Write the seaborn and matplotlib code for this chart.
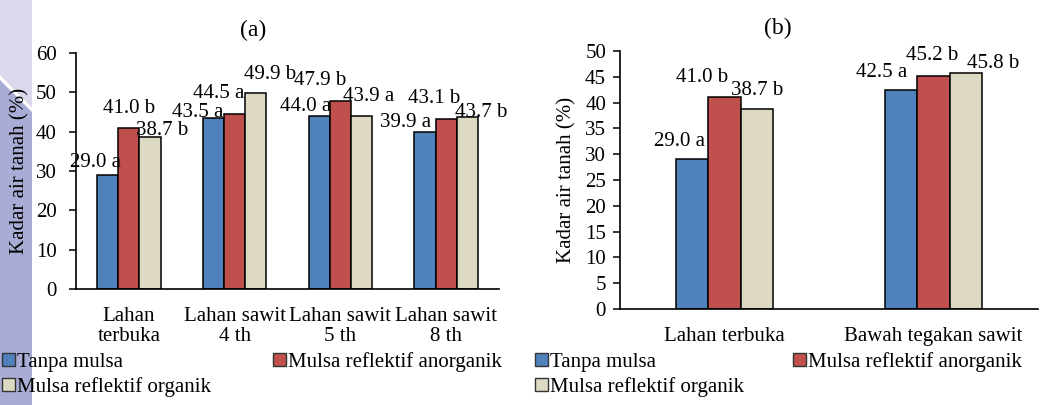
import pandas as pd
import numpy as np
import matplotlib.pyplot as plt
import seaborn as sns
from matplotlib.patches import Patch, Polygon

# data
treatments = ['Tanpa mulsa', 'Mulsa reflektif anorganik', 'Mulsa reflektif organik']
colors = ['#4F81BD', '#C0504D', '#DDD9C3']

sites_a = ['Lahan\nterbuka', 'Lahan sawit\n4 th', 'Lahan sawit\n5 th', 'Lahan sawit\n8 th']
tanpa_a = [29.0, 43.5, 44.0, 39.9]
anorg_a = [41.0, 44.5, 47.9, 43.1]
organ_a = [38.7, 49.9, 43.9, 43.7]
letters_a = [['a', 'a', 'a', 'a'], ['b', 'a', 'b', 'b'], ['b', 'b', 'a', 'b']]

sites_b = ['Lahan terbuka', 'Bawah tegakan sawit']
tanpa_b = [29.0, 42.5]
anorg_b = [41.0, 45.2]
organ_b = [38.7, 45.8]
letters_b = [['a', 'a'], ['b', 'b'], ['b', 'b']]

# label nudges in pixels (dx, dy) per treatment / site, copied from the excel layout
nudge_a = [[(-12, 8), (-16, 1), (-14, 5), (-19, 5)],
           [(0, 15), (-16, 16), (-20, 16), (-12, 16)],
           [(12, 2), (14, 14), (7, 15), (14, 0)]]
nudge_b = [[(-13, 13), (-19, 13)],
           [(-22, 15), (-1, 16)],
           [(0, 14), (27, 5)]]

FS = 15


def long_df(sites, series):
    rows = []
    for t, vals in zip(treatments, series):
        for s, v in zip(sites, vals):
            rows.append({'site': s, 'perlakuan': t, 'kadar': v})
    return pd.DataFrame(rows)


def draw_panel(ax, sites, series, letters, nudges, width, ymax, ystep, title, title_x, ypad):
    df = long_df(sites, series)
    sns.barplot(data=df, x='site', y='kadar', hue='perlakuan', hue_order=treatments,
                palette=colors, width=width, gap=0, edgecolor='black', linewidth=1.1,
                saturation=1, errorbar=None, legend=False, ax=ax)
    ax.set_ylim(0, ymax)
    ax.set_yticks(np.arange(0, ymax + 1, ystep))
    ax.set_xlim(-0.5, len(sites) - 0.5)
    for side in ['top', 'right']:
        ax.spines[side].set_visible(False)
    ax.spines['left'].set_linewidth(1.2)
    ax.spines['bottom'].set_linewidth(1.2)
    ax.tick_params(axis='x', length=0, pad=13, labelsize=FS)
    ax.tick_params(axis='y', length=5, width=1.1, pad=ypad, labelsize=FS)
    for lbl in ax.get_xticklabels():
        lbl.set_linespacing(1.1)
    ax.set_xlabel('')
    ax.set_ylabel('Kadar air tanah (%)', fontsize=FS)
    ax.set_title(title, fontsize=17, pad=12, x=title_x)
    # value labels
    for i, cont in enumerate(ax.containers):
        for j, bar in enumerate(cont):
            v = series[i][j]
            dx, dy = nudges[i][j]
            ax.annotate(f'{v:.1f} {letters[i][j]}',
                        (bar.get_x() + bar.get_width() / 2, bar.get_height()),
                        xytext=(dx * 0.72, dy * 0.72), textcoords='offset points',
                        ha='center', va='baseline', fontsize=FS)


plt.rcParams['font.family'] = ['Liberation Serif', 'DejaVu Serif']
fig = plt.figure(figsize=(10.41, 4.05), dpi=100)

# watermark strip on the left, kept behind everything else
fig.patches.append(Polygon([[0, 1], [32 / 1041, 1], [32 / 1041, 1 - 108 / 405], [0, 1 - 75 / 405]],
                           closed=True, transform=fig.transFigure, facecolor='#DAD9EC', edgecolor='none', zorder=-5))
fig.patches.append(Polygon([[0, 1 - 80 / 405], [32 / 1041, 1 - 112 / 405], [32 / 1041, 0], [0, 0]],
                           closed=True, transform=fig.transFigure, facecolor='#A9ACD4', edgecolor='none', zorder=-5))

ax1 = fig.add_axes([76 / 1041, 1 - 289 / 405, 423 / 1041, 236 / 405])
ax2 = fig.add_axes([620 / 1041, 1 - 309 / 405, 418 / 1041, 258 / 405])
ax1.patch.set_alpha(0)

draw_panel(ax1, sites_a, [tanpa_a, anorg_a, organ_a], letters_a, nudge_a, 0.6, 60, 10, '(a)', 0.418, 9)
draw_panel(ax2, sites_b, [tanpa_b, anorg_b, organ_b], letters_b, nudge_b, 0.465, 50, 5, '(b)', 0.378, 5)
ax1.yaxis.set_label_coords(-0.111, 0.5)
ax2.yaxis.set_label_coords(-0.103, 0.5)

# legend filled column-wise, so order the entries to read row by row
order = [0, 2, 1]
handles = [Patch(facecolor=colors[k], edgecolor='#333333', linewidth=1) for k in order]
labels = [treatments[k] for k in order]
leg_kw = dict(ncol=2, mode='expand', frameon=False, fontsize=FS, handlelength=0.62,
              handleheight=0.62, handletextpad=0.1, borderpad=0, borderaxespad=0,
              labelspacing=0.25, loc='upper left')
fig.legend(handles, labels, bbox_to_anchor=(2 / 1041, 1 - 356 / 405, 500 / 1041, 0.01), **leg_kw)
fig.legend(handles, labels, bbox_to_anchor=(535 / 1041, 1 - 356 / 405, 487 / 1041, 0.01), **leg_kw)

fig.savefig('out.png', dpi=100)
